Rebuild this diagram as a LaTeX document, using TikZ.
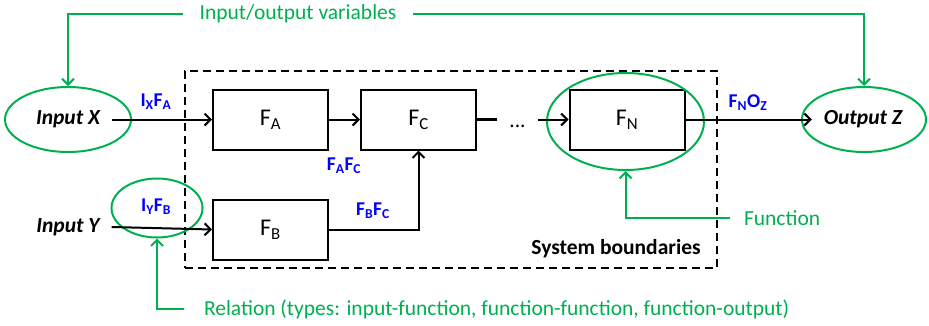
\documentclass[tikz,border=0pt]{standalone}
\usepackage{fontspec}
\setmainfont{Carlito}
\usetikzlibrary{arrows.meta,positioning,shapes.geometric}
\definecolor{notegreen}{RGB}{0,176,80}
\definecolor{relblue}{RGB}{0,0,255}

\begin{document}
\begin{tikzpicture}[x=1pt,y=-1pt,>={Straight Barb[length=6pt,width=12pt]},line width=2pt,
  every node/.style={font=\fontsize{21.5}{25}\selectfont},
  func/.style={draw,minimum width=115pt,minimum height=60pt,inner sep=0pt,font=\fontsize{24}{28}\selectfont},
  var/.style={inner xsep=11pt,font=\fontsize{21.5}{25}\selectfont\bfseries\itshape},
  ring/.style={draw=notegreen,ellipse,inner sep=0pt},
  rel/.style={text=relblue,font=\fontsize{19.5}{23}\selectfont\bfseries},
  note/.style={text=notegreen},
  gline/.style={draw=notegreen,->}]
\useasboundingbox (0,0) rectangle (929,325);
\node[draw,dash pattern=on 8pt off 5pt,minimum width=532pt,minimum height=197pt] (sys) at (451,169.5) {};
\node[anchor=east,font=\fontsize{21.5}{25}\selectfont\bfseries] (sysl) at (705,249) {System boundaries};
\node[func] (fa) at (270.5,119.5) {F\textsubscript{A}};
\node[func,right=31pt of fa] (fc) {F\textsubscript{C}};
\node[func] (fn) at (627,119.5) {F\textsubscript{N}};
\node[func,below=48pt of fa] (fb) {F\textsubscript{B}};
\node[inner xsep=11pt,text height=16pt,text depth=0pt] (dots) at (517.5,119.5) {...};
\node[var] (inx) at (68,119.5) {Input X};
\node[var] (iny) at (68,227) {Input Y};
\node[var] (outz) at (863,119.5) {Output Z};
\node[ring,minimum width=126pt,minimum height=65pt] (inxring) at (68,119.5) {};
\node[ring,minimum width=124pt,minimum height=65pt] (outzring) at (864,119.5) {};
\node[ring,minimum width=157pt,minimum height=97pt] (fnring) at (625.5,121.5) {};
\node[ring,minimum width=91pt,minimum height=59pt] (relring) at (157,208) {};
\node[rel] (ixfa) at (156,102) {I\textsubscript{X}F\textsubscript{A}};
\node[rel] (iyfb) at (156,207) {I\textsubscript{Y}F\textsubscript{B}};
\node[rel] (fafc) at (344,166) {F\textsubscript{A}F\textsubscript{C}};
\node[rel] (fbfc) at (373,211) {F\textsubscript{B}F\textsubscript{C}};
\node[rel] (fnoz) at (748,103) {F\textsubscript{N}O\textsubscript{Z}};
\draw[->] (inx.east) -- (fa.west);
\draw[->] (fa) -- (fc);
\draw[line width=2.8pt] (fc.east) -- (dots.west);
\draw[->] (dots.east) -- (fn.west);
\draw[->] (fn.east) -- (outz.west);
\draw[->] (iny.east) -- (fb.west);
\draw[->] (fb.east) -| (fc.south);
\node[note,inner xsep=16pt] (iov) at (298,14) {Input/output variables};
\node[note,anchor=west,inner xsep=13pt] (fnote) at (730,218) {Function};
\node[note,anchor=west,inner xsep=19pt] (relnote) at (184,309) {Relation (types: input-function, function-function, function-output)};
\draw[gline] (iov.west) -| (inxring.north);
\draw[gline] (iov.east) -| (outzring.north);
\draw[gline] (fnote.west) -| (fnring.south);
\draw[gline] (relnote.west) -| (relring.south);
\end{tikzpicture}
\end{document}
